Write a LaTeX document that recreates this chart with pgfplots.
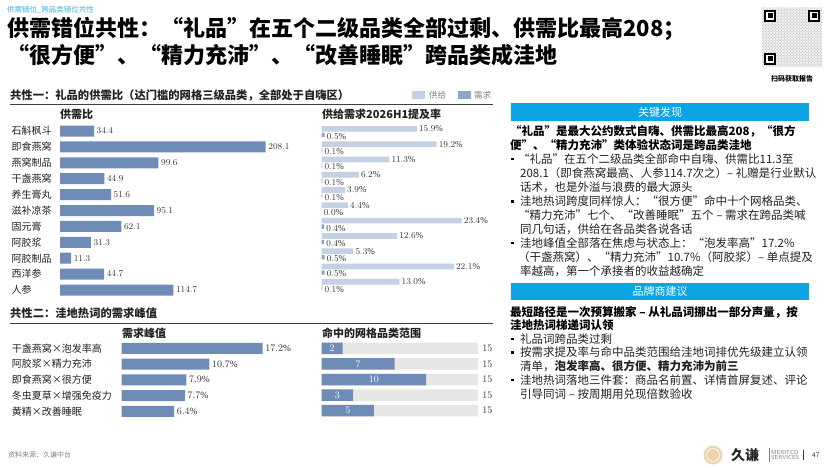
\documentclass[border=0pt]{standalone}
\usepackage{pgfplots}
\pgfplotsset{compat=1.18}
\usepackage{fontspec}
\setmainfont{Liberation Serif}
\newfontfamily\cjk{Noto Sans CJK SC}
\usetikzlibrary{patterns}
\definecolor{barblue}{HTML}{6F8CB9}
\definecolor{supply}{HTML}{C4D0E4}
\definecolor{demand}{HTML}{8EA4CB}
\definecolor{hdrcyan}{HTML}{0BA5E3}
\definecolor{subcyan}{HTML}{3DB2E6}
\definecolor{txt}{HTML}{222222}
\definecolor{lbl}{HTML}{333333}
\definecolor{bggray}{HTML}{E6E6E6}
\definecolor{logotan}{HTML}{E9D6B0}
\newcommand\fs[1]{\fontsize{#1bp}{#1bp}\selectfont}
\pgfplotsset{
  myaxis/.style={scale only axis, clip=false, axis line style={draw=none},
    tick style={draw=none}, major tick length=0pt, xtick=\empty, xbar, y dir=reverse,
    point meta=x},
}
\begin{document}
\begin{tikzpicture}[x=1bp,y=-1bp]
\path[use as bounding box] (0,0) rectangle (830,468);
\fill[white] (0,0) rectangle (830,468);
% header
\node[anchor=west, inner sep=0, font=\cjk\fs{7.5}, text=subcyan] at (7,10) {供需错位\_跨品类错位共性};
\node[anchor=west, inner sep=0, font=\cjk\bfseries\fs{22}, text=black] at (7,29) {供需错位共性：“礼品”在五个二级品类全部过剩、供需比最高208；};
\node[anchor=west, inner sep=0, font=\cjk\bfseries\fs{22}, text=black] at (7,55) {“很方便”、“精力充沛”、“改善睡眠”跨品类成洼地};
% QR placeholder
\fill[gray!12] (762,8) rectangle (822,67);
\fill[pattern=crosshatch dots, pattern color=gray!70] (762,8) rectangle (822,67);
\foreach \qx/\qy in {764/10, 808/10, 764/53}{
  \fill[black] (\qx,\qy) rectangle +(12,12);
  \fill[white] (\qx+2,\qy+2) rectangle +(8,8);
  \fill[black] (\qx+3.5,\qy+3.5) rectangle +(5,5);
}
\node[inner sep=0, font=\cjk\bfseries\fs{7}] at (792,79) {扫码获取报告};
% section 1
\node[anchor=west, inner sep=0, font=\cjk\bfseries\fs{11.3}, text=txt] at (10,95) {共性一：礼品的供需比（达门槛的网格三级品类，全部处于自嗨区）};
\draw[black!75, line width=0.8bp] (10,104) -- (493,104);
\fill[supply] (412,91.5) rectangle (425,99);
\node[anchor=west, inner sep=0, font=\cjk\fs{8.5}, text=gray] at (429,95.3) {供给};
\fill[demand] (458,91.5) rectangle (471,99);
\node[anchor=west, inner sep=0, font=\cjk\fs{8.5}, text=gray] at (474,95.3) {需求};
\node[anchor=west, inner sep=0, font=\cjk\bfseries\fs{11}, text=txt] at (60,114) {供需比};
\node[anchor=west, inner sep=0, font=\cjk\bfseries\fs{11}, text=txt] at (322,114) {供给需求2026H1提及率};
% section 2
\node[anchor=west, inner sep=0, font=\cjk\bfseries\fs{11.3}, text=txt] at (10,313.5) {共性二：洼地热词的需求峰值};
\draw[black!75, line width=0.8bp] (10,323.3) -- (493,323.3);
\node[anchor=west, inner sep=0, font=\cjk\bfseries\fs{11}, text=txt] at (122,333) {需求峰值};
\node[anchor=west, inner sep=0, font=\cjk\bfseries\fs{11}, text=txt] at (322,333) {命中的网格品类范围};

% left chart
\begin{axis}[myaxis, at={(60bp,-123.05bp)}, anchor=north west, width=205.7bp, height=174.9bp,
  xmin=0, xmax=208.1, ymin=-0.5, ymax=10.5, bar width=11bp,
  ytick={0,...,10},
  yticklabels={石斛枫斗,即食燕窝,燕窝制品,干盏燕窝,养生膏丸,滋补凉茶,固元膏,阿胶浆,阿胶制品,西洋参,人参},
  yticklabel style={anchor=west, inner sep=0pt, xshift=-48.5bp, font=\cjk\fs{10}, text=txt},
  nodes near coords={\pgfmathprintnumber[fixed,fixed zerofill,precision=1]{\pgfplotspointmeta}},
  nodes near coords style={font=\fs{9}, text=lbl, inner sep=2.5bp}]
\addplot[fill=barblue, draw=none] coordinates {(34.4,0) (208.1,1) (99.6,2) (44.9,3) (51.6,4) (95.1,5) (62.1,6) (31.3,7) (11.3,8) (44.7,9) (114.7,10)};
\end{axis}

% middle chart
\begin{axis}[myaxis, at={(321.7bp,-124.15bp)}, anchor=north west, width=140bp, height=168.3bp,
  xmin=0, xmax=23.4, ymin=-0.5, ymax=10.5, ytick=\empty,
  nodes near coords={\pgfmathprintnumber[fixed,fixed zerofill,precision=1]{\pgfplotspointmeta}\%},
  nodes near coords style={font=\fs{9}, text=lbl, inner sep=2bp}]
\addplot[fill=supply, draw=none, bar width=5.7bp, bar shift=3bp] coordinates {(15.9,0) (19.2,1) (11.3,2) (6.2,3) (3.9,4) (4.4,5) (23.4,6) (12.6,7) (5.3,8) (22.1,9) (13.0,10)};
\addplot[fill=demand, draw=none, bar width=4.3bp, bar shift=-3bp, nodes near coords style={yshift=-1.5bp}] coordinates {(0.5,0) (0.1,1) (0.1,2) (0.1,3) (0.1,4) (0.0,5) (0.4,6) (0.4,7) (0.5,8) (0.5,9) (0.1,10)};
\end{axis}

% section 2 left
\begin{axis}[myaxis, at={(121.7bp,-340.4bp)}, anchor=north west, width=141bp, height=78.75bp,
  xmin=0, xmax=17.2, ymin=-0.5, ymax=4.5, bar width=11bp,
  ytick={0,...,4},
  yticklabels={干盏燕窝×泡发率高,阿胶浆×精力充沛,即食燕窝×很方便,冬虫夏草×增强免疫力,黄精×改善睡眠},
  yticklabel style={anchor=west, inner sep=0pt, xshift=-110bp, font=\cjk\fs{10}, text=txt},
  nodes near coords={\pgfmathprintnumber[fixed,fixed zerofill,precision=1]{\pgfplotspointmeta}\%},
  nodes near coords style={font=\fs{9.5}, text=lbl, inner sep=2.5bp}]
\addplot[fill=barblue, draw=none] coordinates {(17.2,0) (10.7,1) (7.9,2) (7.7,3) (6.4,4)};
\end{axis}

% section 2 right
\begin{axis}[myaxis, at={(321.7bp,-340.5bp)}, anchor=north west, width=156.5bp, height=78bp,
  xmin=0, xmax=15, ymin=-0.5, ymax=4.5, ytick=\empty, bar width=11.5bp]
\addplot[fill=bggray, draw=none, bar shift=0pt, nodes near coords,
  nodes near coords style={font=\fs{9.5}, text=lbl, inner sep=4bp}] coordinates {(15,0) (15,1) (15,2) (15,3) (15,4)};
\addplot[fill=barblue, draw=none, bar shift=0pt, visualization depends on=x \as \rawx, nodes near coords,
  nodes near coords style={font=\fs{9.5}, text=white, anchor=center, inner sep=0pt, shift={(axis direction cs:-\rawx/2,0)}}] coordinates {(2,0) (7,1) (10,2) (3,3) (5,4)};
\end{axis}

% key findings panel
\fill[hdrcyan] (511,103.5) rectangle (809,121);
\node[inner sep=0, font=\cjk\fs{11}, text=white] at (660,112.3) {关键发现};
\begin{scope}[every node/.style={anchor=west, inner sep=0, font=\cjk\fs{11.5}, text=txt}]
\node[font=\cjk\bfseries\fs{11.5}, text=black] at (510,131) {“礼品”是最大公约数式自嗨、供需比最高208，“很方};
\node[font=\cjk\bfseries\fs{11.5}, text=black] at (510,145.5) {便”、“精力充沛”类体验状态词是跨品类洼地};
\node at (518,159) {“礼品”在五个二级品类全部命中自嗨、供需比11.3至};
\node at (520,173) {208.1（即食燕窝最高、人参114.7次之）– 礼赠是行业默认};
\node at (520,187) {话术，也是外溢与浪费的最大源头};
\node at (520,201.5) {洼地热词跨度同样惊人：“很方便”命中十个网格品类、};
\node at (518,215) {“精力充沛”七个、“改善睡眠”五个 – 需求在跨品类喊};
\node at (520,229) {同几句话，供给在各品类各说各话};
\node at (520,243) {洼地峰值全部落在焦虑与状态上：“泡发率高”17.2\%};
\node at (518,257) {（干盏燕窝）、“精力充沛”10.7\%（阿胶浆）– 单点提及};
\node at (520,271) {率越高，第一个承接者的收益越确定};
\end{scope}
\foreach \by in {159,201.5,243}{\fill[black] (511,\by-1.3) rectangle +(2.6,2.6);}
% brand panel
\fill[hdrcyan] (511,283) rectangle (809,300);
\node[inner sep=0, font=\cjk\fs{11}, text=white] at (660,291.5) {品牌商建议};
\begin{scope}[every node/.style={anchor=west, inner sep=0, font=\cjk\fs{11.5}, text=txt}]
\node[font=\cjk\bfseries\fs{11.5}, text=black] at (510,312) {最短路径是一次预算搬家 – 从礼品词挪出一部分声量，按};
\node[font=\cjk\bfseries\fs{11.5}, text=black] at (510,325.5) {洼地热词梯递词认领};
\node at (520,339) {礼品词跨品类过剩};
\node at (520,352.5) {按需求提及率与命中品类范围给洼地词排优先级建立认领};
\node at (520,366) {清单，{\bfseries 泡发率高、很方便、精力充沛为前三}};
\node at (520,380) {洼地热词落地三件套：商品名前置、详情首屏复述、评论};
\node at (520,394) {引导同词 – 按周期用兑现倍数验收};
\end{scope}
\foreach \by in {339,352.5,380}{\fill[black] (511,\by-1.3) rectangle +(2.6,2.6);}
% footer
\node[anchor=west, inner sep=0, font=\cjk\fs{7}, text=gray] at (8,455) {资料来源：久谦中台};
\fill[logotan] (713,455) circle (9.5);
\draw[white, line width=0.6bp] (713,455) circle (6.5);
\node[anchor=west, inner sep=0, font=\cjk\bfseries\fs{14}, text=black!85] at (731,455.5) {久谦};
\draw[gray, line width=0.5bp] (769.5,448) -- (769.5,462);
\node[anchor=west, inner sep=0, font=\sffamily\fs{5.8}, text=gray, align=left] at (771,455) {MERITCO\\[-0.5bp]SERVICES};
\draw[black!80, line width=0.9bp] (803,450) -- (803,460);
\node[anchor=west, inner sep=0, font=\sffamily\fs{7}, text=black!80] at (812,455) {47};
\end{tikzpicture}
\end{document}
